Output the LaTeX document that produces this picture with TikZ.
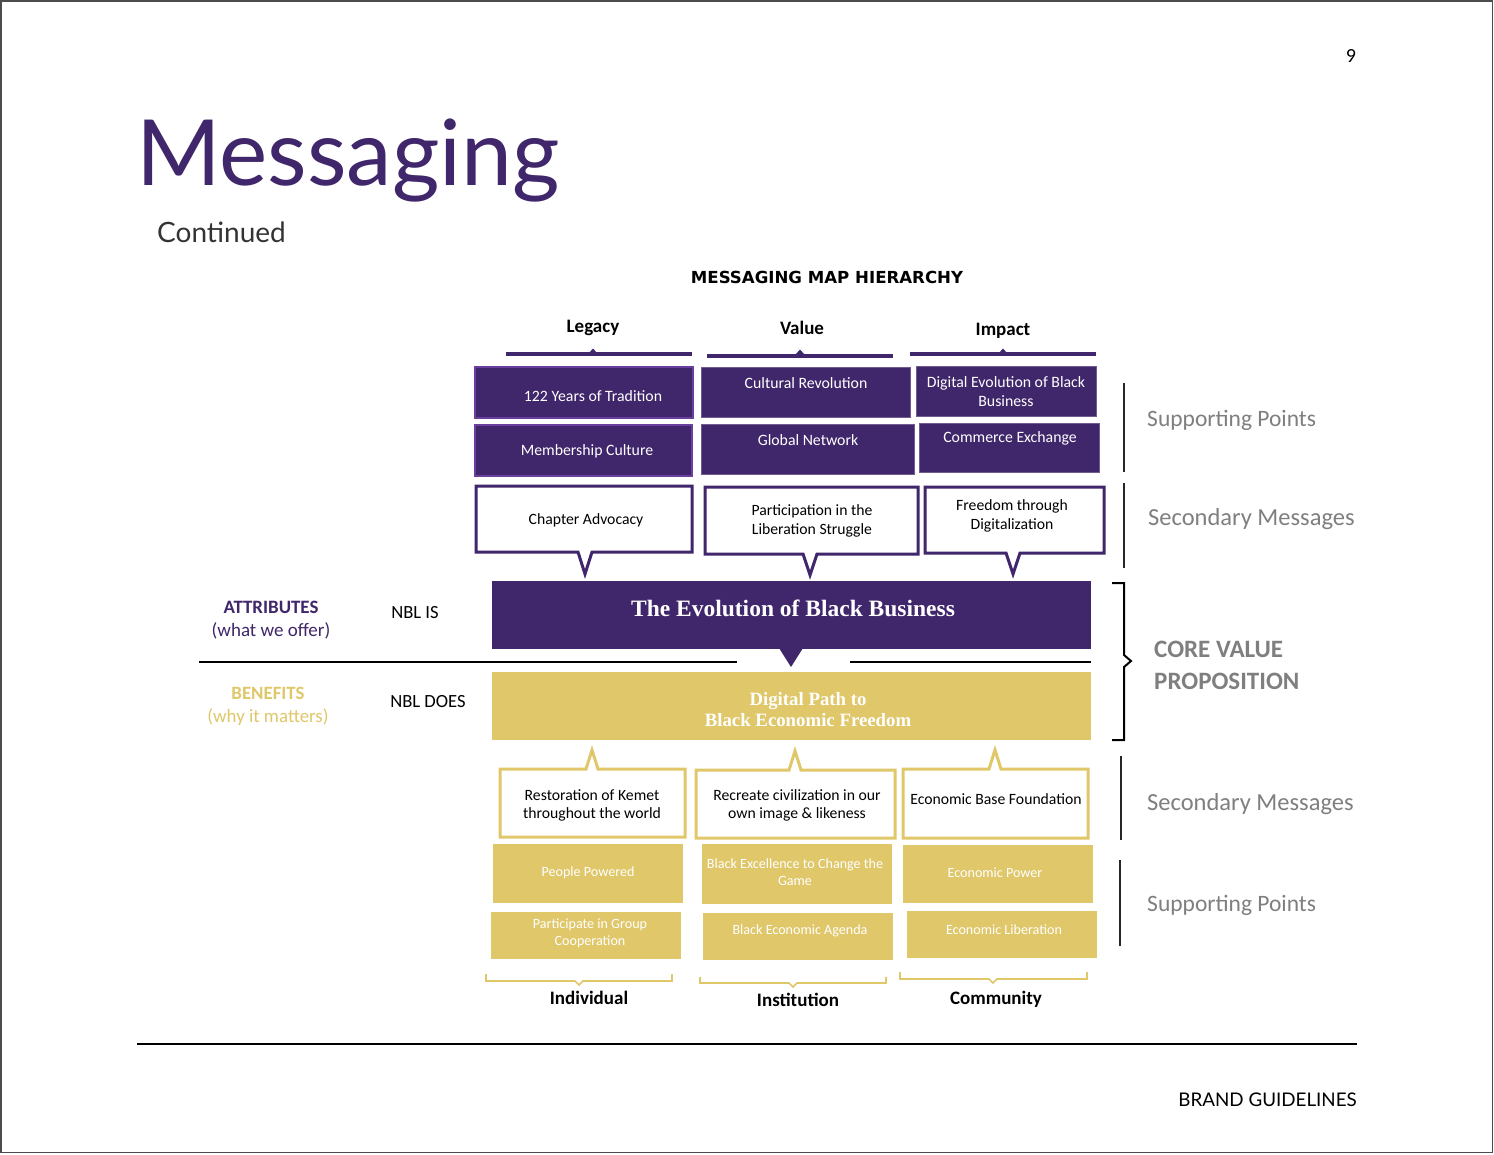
\documentclass[tikz,border=0pt]{standalone}
\usepackage{fontspec}
\setmainfont{Carlito}
\newfontfamily\latofont{Lato}
\newfontfamily\verdfont{DejaVu Sans}
\newfontfamily\seriffont{Liberation Serif}
\newcommand\fsz[2]{\fontsize{#1}{#2}\selectfont}
\definecolor{mpurple}{HTML}{40266A}
\definecolor{mpurpleb}{HTML}{6A3F9E}
\definecolor{mgold}{HTML}{DFC76A}
\definecolor{mgrey}{HTML}{7F7F7F}
\definecolor{dgrey}{HTML}{333333}
\tikzset{
  pbox/.style={rectangle, fill=mpurple, draw=mpurple!75!white, line width=1pt, inner sep=0pt},
  pboxb/.style={pbox, draw=mpurpleb, line width=2pt},
  ptext/.style={text=white, font=\fsz{15.8}{19}, align=center, inner sep=0pt},
  gbox/.style={rectangle, fill=mgold, draw=none, inner sep=0pt},
  gtext/.style={text=white, font=\fsz{14.1}{17}, align=center, inner sep=0pt},
  ctext/.style={text=black, font=\fsz{15.7}{18.8}, align=center, inner sep=0pt},
  pcall/.style={draw=mpurple, line width=3pt, fill=white, line join=miter},
  gcall/.style={draw=mgold, line width=3pt, fill=white, line join=miter},
  head/.style={font=\bfseries\fsz{19}{22}, inner sep=0pt},
  sidelab/.style={text=mgrey, font=\fsz{23.5}{28}, anchor=west, inner sep=0pt},
  sidelabb/.style={sidelab, font=\fsz{24.5}{28}},
  hline/.style={draw=mpurple, line width=4pt},
  gbrace/.style={draw=mgold, line width=1.6pt},
  vbar/.style={draw=black!85, line width=1.2pt},
}
\begin{document}
\begin{tikzpicture}[x=1pt,y=-1pt]
\useasboundingbox (0,0) rectangle (1494,1154);
\fill[white] (0,0) rectangle (1494,1154);
\draw[black!70, line width=1.5pt] (0.75,0.75) rectangle (1492.5,1152.5);

% header
\node[anchor=base, inner sep=0pt, font=\fsz{20}{24}] (pg) at (1351,62) {9};
\node[anchor=base west, inner sep=0pt, text=mpurple, font=\latofont\fsz{91.3}{100}] (title) at (136,185) {Messaging};
\node[anchor=base west, inner sep=0pt, text=dgrey, font=\latofont\fsz{28}{32}] (cont) at (157,242) {Continued};
\node[inner sep=0pt, font=\verdfont\bfseries\fsz{16.6}{18}] (maph) at (827,277) {MESSAGING MAP HIERARCHY};

% column heads
\node[head] (hleg) at (593,328) {Legacy};
\node[head] (hval) at (802,328) {Value};
\node[head] (himp) at (1003,331) {Impact};
\coordinate (l1a) at (506,354); \coordinate (l1b) at (692,354);
\coordinate (l2a) at (707,355.5); \coordinate (l2b) at (893,355.5);
\coordinate (l3a) at (910,354); \coordinate (l3b) at (1096,354);
\draw[hline] (l1a) -- (l1b);
\draw[hline] (l2a) -- (l2b);
\draw[hline] (l3a) -- (l3b);
\fill[mpurple] (589,353) -- (593,348.5) -- (597,353) -- cycle;
\fill[mpurple] (796,354) -- (800,349.5) -- (804,354) -- cycle;
\fill[mpurple] (999,353) -- (1003,348.5) -- (1007,353) -- cycle;

% supporting points (purple)
\node[pboxb, minimum width=218pt, minimum height=51pt] (p1) at (584,392.5) {};
\node[ptext] (p1t) at (593,396) {122 Years of Tradition};
\node[pbox, minimum width=209pt, minimum height=50pt] (p2) at (805.5,392) {};
\node[ptext] (p2t) at (806,383) {Cultural Revolution};
\node[pbox, minimum width=180pt, minimum height=50pt] (p3) at (1006,391) {};
\node[ptext] (p3t) at (1006,391.5) {Digital Evolution of Black\\Business};
\node[pboxb, minimum width=217pt, minimum height=51pt] (p4) at (583.5,450.5) {};
\node[ptext] (p4t) at (587,451) {Membership Culture};
\node[pbox, minimum width=213pt, minimum height=50pt] (p5) at (807.5,449) {};
\node[ptext] (p5t) at (808,440) {Global Network};
\node[pbox, minimum width=180pt, minimum height=49pt] (p6) at (1009,447.5) {};
\node[ptext] (p6t) at (1010,438) {Commerce Exchange};

% secondary messages (purple callouts)
\draw[pcall] (476,486) -- (692,486) -- (692,552) -- (592,552) -- (585,574) -- (578,552) -- (476,552) -- cycle;
\node[ctext] (c1) at (586,520) {Chapter Advocacy};
\draw[pcall] (705,487) -- (918,487) -- (918,554) -- (817,554) -- (810,575) -- (803,554) -- (705,554) -- cycle;
\node[ctext] (c2) at (812,521) {Participation in the\\Liberation Struggle};
\draw[pcall] (925,487) -- (1104,487) -- (1104,553) -- (1020,553) -- (1013,574) -- (1006,553) -- (925,553) -- cycle;
\node[ctext] (c3) at (1012,516) {Freedom through\\Digitalization};

% core value
\node[rectangle, fill=mpurple, minimum width=599pt, minimum height=68pt, inner sep=0pt] (core1) at (791.5,615) {};
\fill[mpurple] (779,648) -- (803,648) -- (791,667) -- cycle;
\node[text=white, font=\seriffont\bfseries\fsz{23.5}{26}, inner sep=0pt] (core1t) at (793,608) {The Evolution of Black Business};
\coordinate (ha) at (199,662); \coordinate (hb) at (737,662);
\coordinate (hc) at (850,662); \coordinate (hd) at (1091,662);
\draw[black, line width=2pt] (ha) -- (hb);
\draw[black, line width=2pt] (hc) -- (hd);
\node[rectangle, fill=mgold, minimum width=599pt, minimum height=68pt, inner sep=0pt] (core2) at (791.5,706) {};
\node[text=white, font=\seriffont\bfseries\fsz{18.8}{21}, align=center, inner sep=0pt] (core2t) at (808,710) {Digital Path to\\Black Economic Freedom};

% left labels
\node[text=mpurple, font=\bfseries\fsz{18.9}{20}, inner sep=0pt] (attr) at (271,607) {ATTRIBUTES};
\node[text=mpurple, font=\fsz{19}{20}, inner sep=0pt] (attr2) at (271,631) {(what we offer)};
\node[font=\fsz{18.6}{20}, inner sep=0pt] (nblis) at (415,613) {NBL IS};
\node[text=mgold, font=\bfseries\fsz{18.8}{20}, inner sep=0pt] (ben) at (268,693) {BENEFITS};
\node[text=mgold, font=\fsz{18.9}{20}, inner sep=0pt] (ben2) at (268,717) {(why it matters)};
\node[font=\fsz{18.6}{20}, inner sep=0pt] (nbldoes) at (428,702) {NBL DOES};

% right side
\coordinate (k1) at (1112,583); \coordinate (k2) at (1112,740);
\draw[black, line width=2pt, line join=miter] (k1) -- (1124,583) -- (1124,655) -- (1131,661) -- (1124,667) -- (1124,740) -- (k2);
\node[text=mgrey, font=\bfseries\fsz{25}{32}, align=left, anchor=west, inner sep=0pt] (cvp) at (1154,665) {CORE VALUE\\PROPOSITION};
\coordinate (v1a) at (1124,383); \coordinate (v1b) at (1124,472);
\coordinate (v2a) at (1124,483); \coordinate (v2b) at (1124,568);
\coordinate (v3a) at (1121,756); \coordinate (v3b) at (1121,840);
\coordinate (v4a) at (1120,860); \coordinate (v4b) at (1120,946);
\draw[vbar] (v1a) -- (v1b);
\draw[vbar] (v2a) -- (v2b);
\draw[vbar] (v3a) -- (v3b);
\draw[vbar] (v4a) -- (v4b);
\node[sidelab] (s1) at (1147,420) {Supporting Points};
\node[sidelabb] (s2) at (1148,519) {Secondary Messages};
\node[sidelabb] (s3) at (1147,804) {Secondary Messages};
\node[sidelab] (s4) at (1147,905) {Supporting Points};

% secondary messages (gold callouts)
\draw[gcall] (500,769) -- (586,769) -- (592,750) -- (598,769) -- (685,769) -- (685,837) -- (500,837) -- cycle;
\node[ctext, font=\fsz{15.7}{18}] (g1) at (592,805) {Restoration of Kemet\\throughout the world};
\draw[gcall] (696,770) -- (789,770) -- (795,751) -- (801,770) -- (895,770) -- (895,838) -- (696,838) -- cycle;
\node[ctext, font=\fsz{15.7}{18}] (g2) at (797,805) {Recreate civilization in our\\own image \& likeness};
\draw[gcall] (903,769) -- (989,769) -- (995,750) -- (1001,769) -- (1088,769) -- (1088,838) -- (903,838) -- cycle;
\node[ctext] (g3) at (996,799) {Economic Base Foundation};

% supporting points (gold)
\node[gbox, minimum width=190pt, minimum height=59pt] (q1) at (588,873.5) {};
\node[gtext] (q1t) at (588,873) {People Powered};
\node[gbox, minimum width=190pt, minimum height=60pt] (q2) at (797,873.5) {};
\node[gtext] (q2t) at (795,872) {Black Excellence to Change the\\Game};
\node[gbox, minimum width=190pt, minimum height=58pt] (q3) at (998,874) {};
\node[gtext] (q3t) at (995,873) {Economic Power};
\node[gbox, minimum width=190pt, minimum height=47pt] (q4) at (586,935) {};
\node[gtext] (q4t) at (590,933) {Participate in Group\\Cooperation};
\node[gbox, minimum width=190pt, minimum height=47pt] (q5) at (797.5,936) {};
\node[gtext] (q5t) at (800,931) {Black Economic Agenda};
\node[gbox, minimum width=190pt, minimum height=47pt] (q6) at (1002,934.5) {};
\node[gtext] (q6t) at (1004,930) {Economic Liberation};

% bottom braces
\coordinate (b1a) at (486,974); \coordinate (b1b) at (672,974);
\coordinate (b2a) at (700,977); \coordinate (b2b) at (886,977);
\coordinate (b3a) at (900,972); \coordinate (b3b) at (1087,972);
\draw[gbrace] (b1a) -- (486,981) -- (575,981) -- (579,985) -- (583,981) -- (672,981) -- (b1b);
\draw[gbrace] (b2a) -- (700,983) -- (789,983) -- (793,987) -- (797,983) -- (886,983) -- (b2b);
\draw[gbrace] (b3a) -- (900,979) -- (989,979) -- (993,983) -- (997,979) -- (1087,979) -- (b3b);
\node[head] (ind) at (589,998) {Individual};
\node[head] (ins) at (798,1000) {Institution};
\node[head] (com) at (996,999) {Community};

% footer
\coordinate (fa) at (137,1044); \coordinate (fb) at (1357,1044);
\draw[black, line width=2pt] (fa) -- (fb);
\node[anchor=base east, inner sep=0pt, font=\latofont\fsz{18.8}{24}] (brand) at (1357,1106) {BRAND GUIDELINES};
\end{tikzpicture}
\end{document}
